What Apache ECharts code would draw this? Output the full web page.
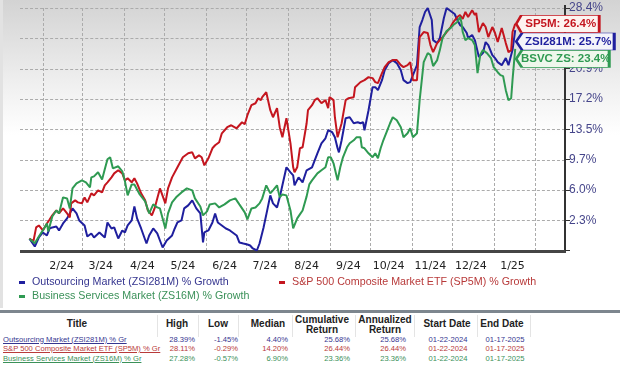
<!DOCTYPE html>
<html><head><meta charset="utf-8">
<script src="https://cdn.jsdelivr.net/npm/echarts@6/dist/echarts.min.js"></script>
<style>
html,body{margin:0;padding:0;}
body{width:620px;height:365px;position:relative;overflow:hidden;background:#fff;font-family:'Liberation Sans',Arial,sans-serif;}
#bg{position:absolute;left:0;top:0;width:617px;height:308px;border-left:3px solid #e2e2e2;background:linear-gradient(#d3d3d3 0px,#eeeeee 80px,#ffffff 135px);}
#gridlayer{position:absolute;left:0;top:0;width:620px;height:310px;}
#chart{position:absolute;left:0;top:0;width:620px;height:310px;}
#bar{position:absolute;left:0;top:310px;width:620px;height:3px;background:#7d868e;}
#table{position:absolute;left:0;top:313px;width:620px;height:52px;background:#fff;}
.c{position:absolute;white-space:nowrap;}
.h{font-weight:bold;font-size:10px;color:#222;text-align:center;line-height:10px;}
.r{font-size:7.6px;line-height:9px;}
.sep{position:absolute;top:2px;height:22px;width:1px;background:#e4e4e4;}
.gv{position:absolute;width:0;border-left:1px dashed #ababab;}
.gh{position:absolute;height:0;border-top:1px dashed #ababab;}
</style></head>
<body>
<div id="bg"></div>
<div id="gridlayer"></div>
<div id="chart"></div>
<div id="bar"></div>
<div id="table"></div>
<script>
// ---------- data ----------
const startDate = '2024-01-22';
const monthLabels = ['2/24','3/24','4/24','5/24','6/24','7/24','8/24','9/24','10/24','11/24','12/24','1/25'];
const yTicks = [-1.45, 2.28, 6.01, 9.74, 13.47, 17.2, 20.93, 24.66, 28.39];

const seriesNames = ['Outsourcing Market (ZSI281M) % Growth','S&P 500 Composite Market ETF (SP5M) % Growth','Business Services Market (ZS16M) % Growth'];
const tagNames = ['ZSI281M','SP5M','BSVC ZS'];

// days since start date
const zsiDays = [0,4,7,10,13,15,17,20,22,25,28,32,35,37,41,43,46,48,52,56,58,61,63,66,69,71,73,76,78,80,83,87,89,92,95,97,99,102,106,108,110,113,115,118,121,124,127,129,130,133,136,138,140,143,146,149,154,156,159,162,164,166,169,171,174,177,179,181,184,186,188,191,194,196,197,200,203,206,210,212,214,217,220,222,225,227,229,230,232,235,238,241,244,246,248,249,252,255,257,259,262,264,267,270,273,276,278,281,283,285,288,290,292,294,296,299,300,303,305,308,310,313,316,318,320,322,325,326,329,331,334,337,339,341,344,346,348,351,354,356,358,359,361];
const zsiValues = [0,-0.96,0.15,0.77,0.40,1.26,1.39,1.51,1.02,1.88,2.50,3.73,3.11,2.25,1.63,0.28,0.65,0.15,0.77,0.15,2.00,1.26,1.39,0.03,1.02,0.77,1.63,2.25,3.98,2.50,1.26,-0.59,0.40,1.26,0.65,-0.22,-1.08,-0.22,0.40,1.26,2.00,2.25,3.73,4.10,4.72,3.73,3.11,-0.46,0.77,1.02,2.00,3.11,2.00,1.63,1.26,1.02,0.40,-0.46,-0.59,-0.71,-0.83,-1.20,-1.45,-0.59,1.39,3.73,5.33,4.35,3.85,5.09,6.57,8.79,8.17,7.80,6.57,7.55,6.94,8.42,8.79,9.65,10.51,11.74,12.36,13.35,13.10,12.48,11.13,10.63,12.11,14.83,14.95,14.21,14.33,14.21,14.33,13.35,15.81,18.65,18.65,18.28,19.51,20.74,21.61,21.98,21.61,20.74,19.51,19.14,19.27,20.13,21.36,26.05,26.91,27.90,28.39,26.91,24.44,24.07,24.69,27.16,28.39,28.02,27.65,26.91,26.29,26.05,25.31,24.69,25.06,24.44,22.35,22.84,24.20,23.83,22.60,22.23,21.73,21.36,22.23,21.36,22.60,23.21,25.68];

const sp5Days = [0,3,5,7,10,13,15,17,20,22,25,28,30,31,34,36,39,41,43,46,48,51,54,56,58,61,63,66,69,71,73,76,78,80,83,86,88,91,93,95,97,101,103,106,110,114,118,121,123,126,128,130,133,136,138,141,143,147,150,154,158,160,162,165,168,170,172,173,176,179,181,184,186,188,191,194,196,197,199,201,203,206,207,210,212,214,217,220,222,223,226,227,229,232,235,237,241,242,246,249,252,255,257,259,262,264,267,270,273,276,278,281,283,285,288,290,293,296,298,300,303,307,310,313,315,318,320,322,324,326,329,331,332,334,337,339,341,344,346,348,351,354,356,358,359,361];
const sp5Values = [0,-0.29,1.39,1.63,1.02,1.88,2.37,2.87,3.48,3.11,3.73,3.11,2.62,4.35,4.72,4.47,4.35,5.09,4.47,5.58,5.33,5.95,5.70,6.57,6.94,7.55,8.04,8.42,8.04,7.18,7.43,6.94,7.43,6.81,5.58,4.72,3.48,2.87,3.73,4.96,6.19,4.35,6.19,7.55,8.79,10.02,10.51,10.63,9.89,10.26,10.02,9.03,9.89,11.13,11.50,11.87,12.97,13.72,13.96,13.59,14.33,14.09,15.20,16.43,16.67,17.29,17.05,17.42,18.03,15.81,14.95,16.06,13.72,12.48,14.83,11.74,8.79,8.17,8.79,11.13,11.25,14.21,15.81,16.43,17.05,17.29,16.67,17.05,16.06,17.42,17.05,14.95,12.48,14.21,17.05,17.29,17.42,18.65,19.27,19.51,19.88,19.76,19.27,19.14,20.37,21.11,21.73,21.98,21.98,21.36,21.11,21.36,21.73,19.51,19.51,24.81,25.43,25.31,23.83,22.96,24.07,24.81,25.43,26.05,26.66,27.28,27.53,27.04,27.90,27.28,28.11,27.53,27.78,25.43,26.54,26.05,24.81,26.05,25.31,24.20,25.92,24.07,22.96,23.21,25.43,26.44];

const zs16Days = [0,4,7,10,13,14,17,20,22,25,28,30,32,35,39,42,45,46,48,51,54,56,58,60,62,66,69,71,73,76,78,82,86,89,92,95,97,101,103,106,109,113,117,121,123,127,129,132,134,138,141,145,149,153,156,160,162,165,168,171,173,176,179,181,184,186,188,191,194,196,199,201,203,206,208,210,214,217,220,222,224,226,229,231,233,236,238,241,243,246,247,249,252,255,257,259,261,263,266,268,270,273,276,278,281,283,285,288,290,293,296,298,300,303,305,307,310,313,315,318,320,321,322,324,326,329,331,333,335,337,340,343,345,348,350,352,354,356,358,359,361];
const zs16Values = [0,-0.57,0.28,1.02,1.88,0.90,2.74,3.48,3.11,5.09,4.96,3.73,6.19,6.81,7.18,6.94,6.32,7.55,7.67,8.17,7.30,8.54,9.77,10.02,8.66,8.91,8.29,7.06,5.33,6.68,6.68,5.45,4.59,3.11,4.22,3.85,3.73,1.26,3.11,4.47,5.09,5.70,6.19,5.95,4.96,3.97,2.87,3.36,4.22,4.35,3.85,4.22,4.72,4.96,4.22,3.24,2.37,3.73,3.85,4.35,4.96,6.57,5.58,5.95,6.57,5.09,5.45,5.33,3.48,1.26,2.50,2.99,3.48,5.21,6.69,7.18,8.04,8.42,8.79,10.02,10.02,9.28,7.18,8.79,10.02,11.25,11.74,12.11,12.48,12.48,11.25,11.13,10.51,10.02,10.51,9.89,11.13,12.11,13.35,14.21,14.95,14.58,13.72,12.48,12.97,13.59,12.48,12.97,17.05,21.73,22.84,22.60,21.24,21.98,23.21,24.69,25.55,25.92,26.29,26.66,27.28,26.66,25.43,24.44,24.69,24.44,23.83,20.37,22.60,23.21,22.84,22.23,21.11,20.49,20.13,20.00,18.28,17.05,17.29,19.51,23.36];

// table
const tableHeaders = ['Title','High','Low','Median','Cumulative\nReturn','Annualized\nReturn','Start Date','End Date'];
const tableTitles = ['Outsourcing Market (ZSI281M) % Gr','S&P 500 Composite Market ETF (SP5M) % Gr','Business Services Market (ZS16M) % Gr'];
const tableHigh = ['28.39%','28.11%','27.28%'];
const tableLow = ['-1.45%','-0.29%','-0.57%'];
const tableMedian = ['4.40%','14.20%','6.90%'];
const tableCumulative = ['25.68%','26.44%','23.36%'];
const tableAnnualized = ['25.68%','26.44%','23.36%'];
const tableStart = ['01-22-2024','01-22-2024','01-22-2024'];
const tableEnd = ['01-17-2025','01-17-2025','01-17-2025'];

// ---------- styles / layout ----------
const lineColors = ['#1f1f9e','#c4161f','#2f9a52'];
const textColors = ['#35358f','#b83a3a','#3b9159'];
const tagFills = ['#f4f4fa','#fdf3f0','#eff7ec'];

const DAY = 86400000;
const t0 = Date.parse(startDate + 'T00:00:00Z');
const dayOf = (y, m, d) => (Date.UTC(y, m, d) - t0) / DAY;
const gridLeft = 20, gridWidth = 545;
const xMin = -7, xMax = 398;
const monthStarts = [];
for (let i = 0; i <= monthLabels.length; i++) monthStarts.push(dayOf(2024, 1 + i, 1));
const monthMids = monthLabels.map((_, i) => dayOf(2024, 1 + i, 15));

const pairs = (days, vals) => days.map((d, i) => [d, vals[i]]);
const allDays = [zsiDays, sp5Days, zs16Days];
const allVals = [zsiValues, sp5Values, zs16Values];
const tagWidths = [98, 83, 93];
const tagDy = [11.5, 0, 10];

const series = seriesNames.map((name, k) => {
  const days = allDays[k], vals = allVals[k], n = vals.length - 1;
  const w = tagWidths[k];
  return {
    name, type: 'line', showSymbol: false, symbol: 'none', animation: false,
    data: pairs(days, vals),
    lineStyle: {color: lineColors[k], width: 2},
    itemStyle: {color: lineColors[k]},
    markPoint: {
      silent: true, animation: false,
      symbol: 'path://M0,8L6,0L100,0L100,16L6,16Z',
      symbolKeepAspect: false,
      symbolSize: [w, 17],
      symbolOffset: [w / 2 + 1, tagDy[k]],
      itemStyle: {color: tagFills[k], borderColor: lineColors[k], borderWidth: 1.3},
      label: {show: true, position: 'inside', offset: [3, 0],
        formatter: tagNames[k] + ': ' + vals[n].toFixed(1) + '%',
        color: lineColors[k], fontWeight: 'bold', fontSize: 11.5, fontFamily: 'Liberation Sans'},
      data: [{coord: [days[n], vals[n]]}]
    }
  };
});

const chart = echarts.init(document.getElementById('chart'));
chart.setOption({
  animation: false,
  grid: {left: gridLeft, right: 620 - gridLeft - gridWidth, top: 8, bottom: 59.5},
  legend: [
    {orient: 'vertical', left: 14, top: 271, itemWidth: 6, itemHeight: 3, itemGap: 1, icon: 'rect',
     data: [
       {name: seriesNames[0], textStyle: {color: textColors[0]}},
       {name: seriesNames[2], textStyle: {color: textColors[2]}}],
     textStyle: {fontSize: 10.7, fontFamily: 'Liberation Sans', lineHeight: 13, padding: [0,0,0,2]}},
    {orient: 'horizontal', left: 274, top: 271, itemWidth: 6, itemHeight: 3, icon: 'rect',
     data: [{name: seriesNames[1], textStyle: {color: textColors[1]}}],
     textStyle: {fontSize: 10.7, fontFamily: 'Liberation Sans', lineHeight: 13, padding: [0,0,0,2]}}
  ],
  xAxis: {
    type: 'value', min: xMin, max: xMax,
    axisLine: {show: false, onZero: false},
    axisTick: {show: false},
    splitLine: {show: false},
    axisLabel: {customValues: monthMids, color: '#222', fontFamily: 'DejaVu Sans', fontSize: 11, margin: 10,
      formatter: (v) => {
        let best = 0, bd = Infinity;
        monthMids.forEach((m, i) => { const d = Math.abs(m - v); if (d < bd) { bd = d; best = i; } });
        return monthLabels[best];
      }}
  },
  yAxis: {
    type: 'value', position: 'right', min: yTicks[0], max: yTicks[yTicks.length - 1],
    interval: yTicks[1] - yTicks[0],
    axisLine: {show: false, onZero: false},
    axisTick: {show: true, inside: false, length: 5, lineStyle: {color: '#333'}},
    splitLine: {show: false},
    axisLabel: {color: '#45458a', fontSize: 12, fontFamily: 'Liberation Sans', margin: 4,
      formatter: (v) => v < 0 ? '' : v.toFixed(1) + '%'}
  },
  series
});

// ---------- grid lines and axis lines, placed with the chart's own scales ----------
const gl = document.getElementById('gridlayer');
const px = v => chart.convertToPixel({xAxisIndex: 0}, v);
const py = v => chart.convertToPixel({yAxisIndex: 0}, v);
const xL = px(xMin), xR = px(xMax);
const yT = py(yTicks[yTicks.length - 1]), yB = py(yTicks[0]);
function addDiv(cls, css) {
  const d = document.createElement('div');
  if (cls) d.className = cls;
  Object.assign(d.style, css);
  gl.appendChild(d);
}
monthStarts.forEach(m => {
  const x = Math.round(px(m));
  addDiv('gv', {left: x + 'px', top: yT + 'px', height: (yB - yT) + 'px'});
});
yTicks.slice(1).forEach(v => {
  const y = Math.round(py(v));
  addDiv('gh', {left: xL + 'px', top: y + 'px', width: (xR - xL) + 'px'});
});
// right axis line
addDiv(null, {position: 'absolute', left: (Math.round(xR) - 1) + 'px', top: (yT - 3) + 'px', width: '2px', height: (yB - yT + 4) + 'px', background: '#333'});
// bottom axis line
addDiv(null, {position: 'absolute', left: xL + 'px', top: (Math.round(yB) - 1) + 'px', width: (xR - xL + 1) + 'px', height: '3px', background: '#454545'});

// ---------- table ----------
const tbl = document.getElementById('table');
const headerCenters = [77, 177, 218, 268, 322, 385, 447, 502];
const seps = [157, 198, 238, 292, 355, 414, 477, 530];
seps.forEach(x => { const s = document.createElement('div'); s.className = 'sep'; s.style.left = x + 'px'; tbl.appendChild(s); });
tableHeaders.forEach((h, i) => {
  const d = document.createElement('div');
  d.className = 'c h';
  const lines = h.split('\n');
  d.innerHTML = lines.join('<br>');
  d.style.left = headerCenters[i] + 'px';
  d.style.transform = 'translateX(-50%)';
  d.style.top = (lines.length > 1 ? 2 : 6) + 'px';
  tbl.appendChild(d);
});
const rowY = [21.5, 31, 40.5];
const cols = [
  {vals: tableTitles, x: 3, align: 'left', underline: true},
  {vals: tableHigh, x: 195, align: 'right'},
  {vals: tableLow, x: 238, align: 'right'},
  {vals: tableMedian, x: 288, align: 'right'},
  {vals: tableCumulative, x: 350, align: 'right'},
  {vals: tableAnnualized, x: 406, align: 'right'},
  {vals: tableStart, x: 448, align: 'center'},
  {vals: tableEnd, x: 505, align: 'center'}
];
cols.forEach(col => {
  col.vals.forEach((v, r) => {
    const d = document.createElement('div');
    d.className = 'c r';
    d.textContent = v;
    d.style.color = textColors[r];
    d.style.top = rowY[r] + 'px';
    if (col.underline) d.style.textDecoration = 'underline';
    if (col.align === 'left') d.style.left = col.x + 'px';
    else if (col.align === 'right') d.style.right = (620 - col.x) + 'px';
    else { d.style.left = col.x + 'px'; d.style.transform = 'translateX(-50%)'; }
    tbl.appendChild(d);
  });
});
</script>
</body></html>
